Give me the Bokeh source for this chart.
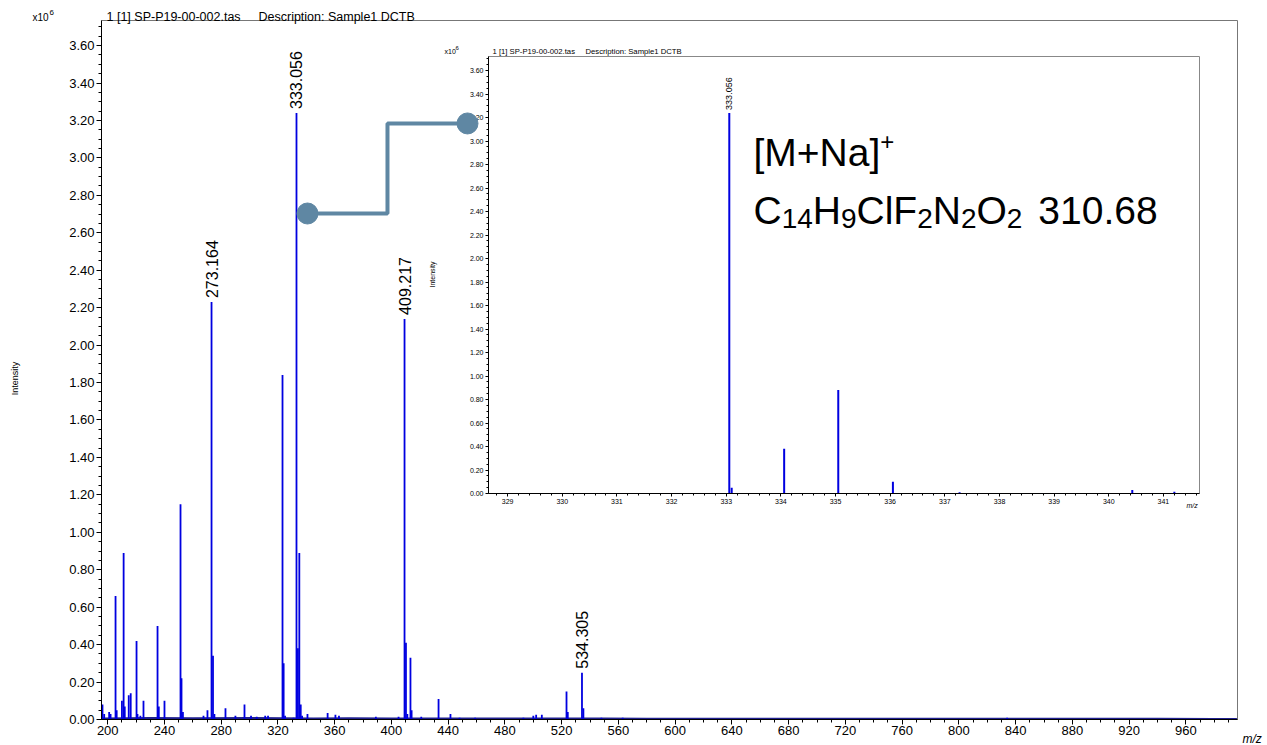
import math
from bokeh.plotting import figure
from bokeh.models import Range1d, FixedTicker, PrintfTickFormatter, Label, GridBox, Column
from bokeh.embed import file_html
from bokeh.resources import INLINE
from bokeh.core.properties import value

FONT = "Liberation Sans"

# ---------------- data (intensity in units of 10^6) ----------------
main_mz = [196.3, 197.5, 201.0, 202.0, 205.5, 206.3, 210.0, 211.2, 212.0, 214.8,
           216.2, 220.3, 221.0, 223.0, 225.2, 235.1, 236.0, 240.0, 251.3, 252.0,
           253.0, 267.5, 270.3, 273.164, 274.2, 275.2, 283.0, 290.0, 296.4, 301.0,
           305.0, 311.0, 313.0, 323.2, 324.0, 325.0, 331.0, 333.056, 334.06, 335.05,
           336.05, 337.0, 340.8, 355.0, 360.5, 363.0, 389.0, 405.0, 409.217, 410.22,
           411.2, 413.4, 414.2, 421.0, 433.2, 441.6, 448.0, 459.0, 493.0, 500.0,
           502.0, 506.0, 523.4, 524.3, 534.305, 535.3, 548.0, 563.0, 834.0]
main_int = [0.08, 0.03, 0.04, 0.03, 0.66, 0.05, 0.10, 0.89, 0.07, 0.13,
            0.14, 0.42, 0.03, 0.02, 0.10, 0.50, 0.07, 0.10, 1.15, 0.22,
            0.04, 0.02, 0.05, 2.23, 0.34, 0.03, 0.06, 0.02, 0.08, 0.02,
            0.015, 0.02, 0.02, 1.84, 0.30, 0.02, 0.01, 3.24, 0.38, 0.89,
            0.08, 0.02, 0.03, 0.035, 0.025, 0.02, 0.015, 0.015, 2.14, 0.41,
            0.03, 0.33, 0.05, 0.015, 0.11, 0.03, 0.01, 0.01, 0.01, 0.02,
            0.025, 0.025, 0.15, 0.04, 0.25, 0.06, 0.01, 0.01, 0.01]

noise_mz = [196, 230, 260, 300, 345, 370, 400, 430, 460, 490, 520, 550,
            580, 620, 660, 700, 740, 780, 820, 860, 900, 940, 980, 996]
noise_int = [0.006, 0.008, 0.007, 0.008, 0.006, 0.007, 0.006, 0.006, 0.005, 0.006,
             0.005, 0.005, 0.004, 0.004, 0.004, 0.004, 0.004, 0.004, 0.004, 0.004,
             0.004, 0.004, 0.003, 0.003]

main_label_mz = [273.164, 333.056, 409.217, 534.305]
main_label_int = [2.23, 3.24, 2.14, 0.25]
main_label_text = ["273.164", "333.056", "409.217", "534.305"]

inset_mz = [333.056, 333.10, 334.06, 335.05, 336.05, 337.27, 340.43, 341.20]
inset_int = [3.24, 0.05, 0.38, 0.88, 0.10, 0.01, 0.03, 0.015]
inset_label_mz = [333.056]
inset_label_int = [3.24]
inset_label_text = ["333.056"]

main_xticks = list(range(200, 961, 40))
main_xminor = list(range(200, 1000, 10))
main_yticks = [round(0.2 * i, 2) for i in range(19)]
main_yminor = [round(0.05 * i, 2) for i in range(75)]
inset_xticks = list(range(329, 342))
inset_xminor = [round(328.6 + 0.2 * i, 1) for i in range(66)]
inset_yticks = main_yticks
inset_yminor = main_yminor

title_file = "1 [1] SP-P19-00-002.tas"
title_desc = "Description: Sample1 DCTB"

SPEC = "#0000E0"
CONN = "#5F87A3"
W, H = 1264, 744


def style_axes(fig, fs, tick_out, minor_out, standoff):
    for ax in (fig.xaxis[0], fig.yaxis[0]):
        ax.axis_line_color = "black"
        ax.major_tick_line_color = "black"
        ax.minor_tick_line_color = "black"
        ax.major_tick_in = 0
        ax.major_tick_out = tick_out
        ax.minor_tick_in = 0
        ax.minor_tick_out = minor_out
        ax.major_label_text_font = FONT
        ax.major_label_text_font_size = fs
        ax.major_label_text_color = "black"
        ax.major_label_standoff = standoff


def lab(fig, text, x, y, size, angle=0.0, align="left", baseline="alphabetic",
        style="normal", color="black"):
    fig.add_layout(Label(x=x, y=y, x_units="screen", y_units="screen", text=text,
                         angle=angle, text_align=align, text_baseline=baseline,
                         text_font=FONT, text_font_size=size, text_font_style=style,
                         text_color=color))


# ---------------- main figure ----------------
# frame: left 101, top 20, right 1237, bottom 719 (page pixels)
p = figure(width=W, height=H, output_backend="svg", toolbar_location=None,
           x_range=Range1d(195.6, 996.4), y_range=Range1d(0, 3.734),
           min_border_left=101, min_border_right=27, min_border_top=20, min_border_bottom=25,
           background_fill_color=None, border_fill_color=None)
p.grid.visible = False
p.outline_line_color = "#777777"
p.xaxis.ticker = FixedTicker(ticks=main_xticks, minor_ticks=main_xminor)
p.yaxis.ticker = FixedTicker(ticks=main_yticks, minor_ticks=main_yminor)
p.yaxis.formatter = PrintfTickFormatter(format="%.2f")
style_axes(p, "13px", 5, 3, 2)
p.xaxis.major_label_standoff = 1

p.line(noise_mz, noise_int, line_color="#20208F", line_width=2)
p.segment(x0=main_mz, y0=[0] * len(main_mz), x1=main_mz, y1=main_int,
          line_color=SPEC, line_width=1.8)
p.text(x=main_label_mz, y=main_label_int, text=main_label_text, angle=math.pi / 2,
       text_align="left", text_baseline="middle", y_offset=-4,
       text_font=value(FONT), text_font_size="16px", text_color="black")

# connector from the 333 peak to the inset
conn_x = [340.8, 397.2, 397.2, 453.6]
conn_y = [2.703, 2.703, 3.184, 3.184]
p.line(conn_x, conn_y, line_color=CONN, line_width=4)
p.scatter([conn_x[0], conn_x[-1]], [conn_y[0], conn_y[-1]], size=21,
          fill_color=CONN, line_color=CONN)

# ---------------- inset figure ----------------
# frame: left 488, top 56, right 1199, bottom 493 (page pixels)
q = figure(width=785, height=475, output_backend="svg", toolbar_location=None,
           x_range=Range1d(328.65, 341.66), y_range=Range1d(0, 3.72),
           min_border_left=60, min_border_right=14, min_border_top=18, min_border_bottom=20,
           background_fill_color="white", border_fill_color="white")
q.grid.visible = False
q.outline_line_color = "#888888"
q.xaxis.ticker = FixedTicker(ticks=inset_xticks, minor_ticks=inset_xminor)
q.yaxis.ticker = FixedTicker(ticks=inset_yticks, minor_ticks=inset_yminor)
q.yaxis.formatter = PrintfTickFormatter(format="%.2f")
style_axes(q, "7px", 3, 2, 2)

q.segment(x0=inset_mz, y0=[0] * len(inset_mz), x1=inset_mz, y1=inset_int,
          line_color=SPEC, line_width=2)
q.text(x=inset_label_mz, y=inset_label_int, text=inset_label_text, angle=math.pi / 2,
       text_align="left", text_baseline="middle", y_offset=-3,
       text_font=value(FONT), text_font_size="9px", text_color="black")

# adduct and formula annotation (pieces laid out with Arial-like advances)
ADV = {"C": .722, "H": .722, "l": .222, "F": .611, "N": .722, "O": .778, "M": .833,
       "+": .584, "a": .556, "[": .278, "]": .278, ".": .278, " ": .278}


def adv(s, size):
    return sum(ADV.get(ch, .556) for ch in s) * size


BIG, SMALL = 39, 28
x0 = 753 - 488
xx = x0
for t, sup in [("[M+Na]", False), ("+", True)]:
    if sup:
        lab(q, t, xx, 493 - 141, "24px")
        xx += adv(t, 24)
    else:
        lab(q, t, xx, 493 - 152, f"{BIG}px")
        xx += adv(t, BIG)

formula = [("C", False), ("14", True), ("H", False), ("9", True), ("Cl", False),
           ("F", False), ("2", True), ("N", False), ("2", True), ("O", False), ("2", True)]
xx = x0
for t, sub in formula:
    if sub:
        lab(q, t, xx, 493 - 218, f"{SMALL}px")
        xx += adv(t, SMALL)
    else:
        lab(q, t, xx, 493 - 210, f"{BIG}px")
        xx += adv(t, BIG)
lab(q, "310.68", xx + 16, 493 - 210, f"{BIG}px")

# ---------------- transparent overlay for texts outside the frames ----------------
ov = figure(width=W, height=H, output_backend="svg", toolbar_location=None,
            x_range=Range1d(0, W), y_range=Range1d(0, H), min_border=0,
            x_axis_location=None, y_axis_location=None,
            background_fill_color=None, border_fill_color=None)
ov.grid.visible = False
ov.outline_line_color = None


def pg(text, px, py, size, **kw):
    """place a label at page pixel (px, py) measured from the top-left"""
    lab(ov, text, px, H - py, size, **kw)


# main chart texts
pg("x10", 32, 17, "10px")
pg("6", 49, 12, "8px")
pg(title_file, 106, 16, "12.5px")
pg(title_desc, 258, 16, "12.5px")
pg("Intensity", 14, 378, "9px", angle=math.pi / 2, align="center", baseline="middle")
pg("m/z", 1242, 738, "12px", style="italic")
# inset texts
pg("x10", 444, 51, "7px")
pg("6", 455, 47, "6px")
pg(title_file, 492, 51, "7.7px")
pg(title_desc, 585, 51, "7.7px")
pg("Intensity", 432, 274, "7px", angle=math.pi / 2, align="center", baseline="middle")
pg("m/z", 1186, 505, "7px", style="italic")

ov_box = Column(children=[ov], width=W, height=H)

grid = GridBox(children=[(q, 1, 1, 1, 1), (p, 0, 0, 3, 3), (ov_box, 0, 0, 3, 3)],
               rows=["38px", "475px", "231px"], cols=["428px", "785px", "51px"],
               spacing=0)

open("out.html", "w").write(file_html(grid, INLINE))
